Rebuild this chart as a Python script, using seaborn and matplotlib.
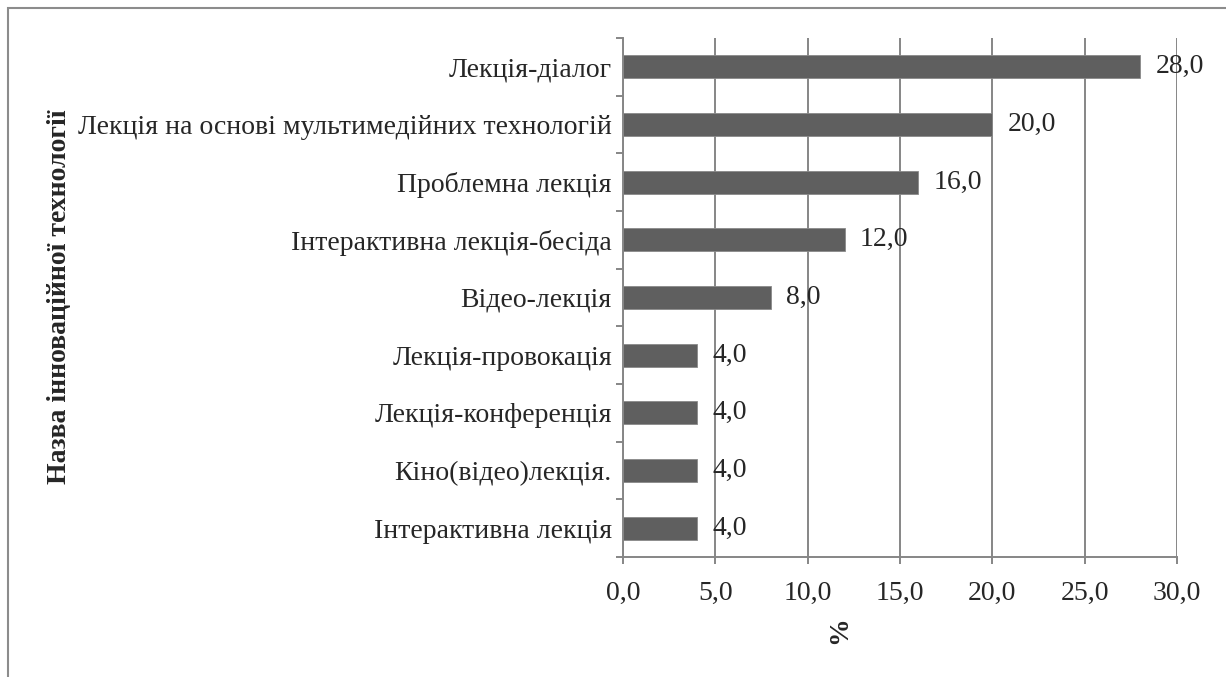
import pandas as pd
import matplotlib.pyplot as plt
import seaborn as sns
from matplotlib.patches import Rectangle
from matplotlib.ticker import FixedLocator, FuncFormatter

# ==============================
# DATA
# ==============================
categories = [
    "Лекція-діалог",
    "Лекція на основі мультимедійних технологій",
    "Проблемна лекція",
    "Інтерактивна лекція-бесіда",
    "Відео-лекція",
    "Лекція-провокація",
    "Лекція-конференція",
    "Кіно(відео)лекція.",
    "Інтерактивна лекція",
]
values = [28.0, 20.0, 16.0, 12.0, 8.0, 4.0, 4.0, 4.0, 4.0]
x_ticks = [0, 5, 10, 15, 20, 25, 30]

df = pd.DataFrame({"tech": categories, "pct": values})

# ==============================
# STYLE
# ==============================
sns.set_style("white")
plt.rcParams["font.family"] = ["Liberation Serif", "DejaVu Serif"]
grey = "#868686"
bar_col = "#5f5f5f"
fs = 20

fig = plt.figure(figsize=(12.26, 6.77), dpi=100)
ax = fig.add_axes([0.5082, 0.1773, 0.4518, 0.7666])

sns.barplot(data=df, x="pct", y="tech", orient="h", color=bar_col,
            width=0.4, saturation=1, edgecolor="#8a8a8a", linewidth=0.6, ax=ax)

ax.set_xlim(0, 30)
ax.set_ylim(len(categories) - 0.5, -0.5)
ax.xaxis.set_major_locator(FixedLocator(x_ticks))
ax.xaxis.set_major_formatter(FuncFormatter(lambda v, p: f"{v:.1f}".replace(".", ",")))
ax.grid(axis="x", color=grey, linewidth=1.4)
ax.set_axisbelow(True)

for s in ["top", "right"]:
    ax.spines[s].set_visible(False)
for s in ["left", "bottom"]:
    ax.spines[s].set_color(grey)
    ax.spines[s].set_linewidth(1.4)

# ticks: category boundaries on y, values on x
ax.yaxis.set_minor_locator(FixedLocator([i - 0.5 for i in range(len(categories) + 1)]))
ax.tick_params(axis="y", which="major", length=0, pad=8, labelsize=fs)
ax.tick_params(axis="y", which="minor", length=5, width=1.4, color=grey, left=True)
ax.tick_params(axis="x", which="major", length=5, width=1.4, color=grey,
               bottom=True, pad=12, labelsize=fs)

# value labels
for i, v in enumerate(values):
    ax.annotate(f"{v:.1f}".replace(".", ","), xy=(v, i), xytext=(11, 0),
                textcoords="offset points", va="center", ha="left", fontsize=fs)

ax.set_ylabel("Назва інноваційної технології", fontsize=fs, fontweight="bold")
ax.yaxis.set_label_coords(72 / 1226, 1 - 297 / 677, transform=fig.transFigure)
ax.set_xlabel("")
fig.text(840 / 1226, 1 - 630 / 677, "%", rotation=90, fontsize=fs,
         fontweight="bold", ha="center", va="center")

# outer frame (only top and left visible in the original)
fig.patches.append(Rectangle((8 / 1226, -0.05), 1.1, 1 - 8 / 677 + 0.05,
                             transform=fig.transFigure, fill=False,
                             edgecolor="#8c8c8c", linewidth=1.5))

fig.savefig("out.png", dpi=100)
